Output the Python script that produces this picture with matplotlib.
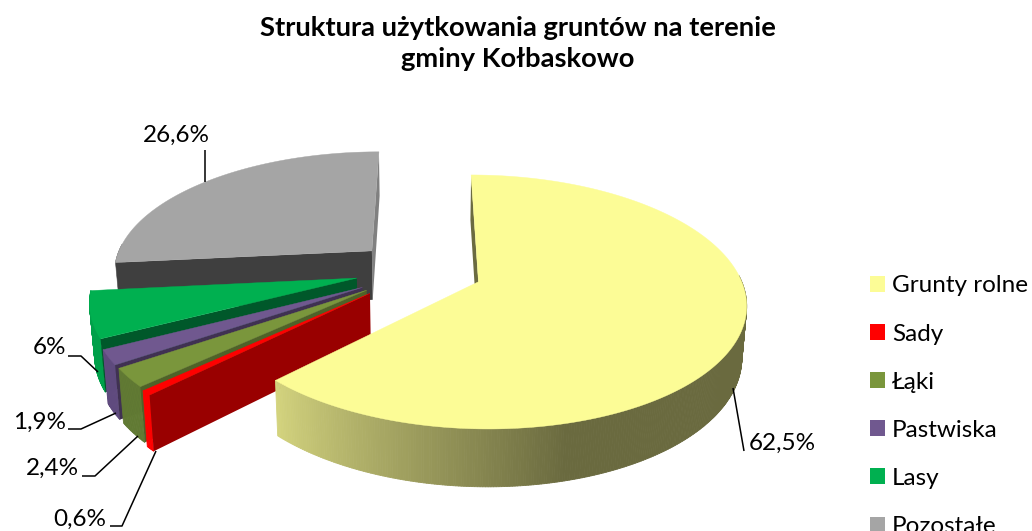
import matplotlib
matplotlib.use("Agg")
import matplotlib.pyplot as plt
import numpy as np
from matplotlib.patches import Patch, Polygon
from matplotlib.collections import PolyCollection

plt.rcParams['font.family'] = ['Lato', 'DejaVu Sans']

# Dane
kategorie = ["Grunty rolne", "Sady", "Łąki", "Pastwiska", "Lasy", "Pozostałe"]
wartosci = [62.5, 0.6, 2.4, 1.9, 6.0, 26.6]
etykiety = ["62,5%", "0,6%", "2,4%", "1,9%", "6%", "26,6%"]

# Wyglad wycinkow
explode_x = [0.203, -0.206, -0.219, -0.236, -0.26, -0.21]
explode_y = [0.08, 0.172, 0.147, 0.125, 0.05, -0.18]
kolory = ["#FCFC96", "#FF0000", "#7A963C", "#70588F", "#00B050", "#A5A5A5"]
kolory_bok = [None, "#FF0000", "#617A33", "#5F4A7E", "#00A04A", "#8C8C8C"]
kolory_start = ["#6B6B40", "#990000", "#4F6228", "#403152", "#00582A", "#3F3F3F"]
kolory_koniec = ["#6B6B40", "#990000", "#4F6228", "#403152", "#00582A", "#808080"]

# Pozycje etykiet i linii odniesienia (w pikselach obrazu)
etykiety_xy = [(749, 443), (53, 519), (26, 468), (13, 422), (33, 348), (143, 135)]
linie = [
    [(744, 451), (733, 388)],
    [(110, 526), (122, 526), (156, 451)],
    [(82, 476), (95, 476), (138, 436)],
    [(68, 429), (81, 429), (116, 413)],
    [(68, 356), (81, 356), (98, 372)],
    [(205, 150), (205, 182)],
]

# Parametry rzutu perspektywicznego
XV, YV = 425, 272
CX, AY, B = 260, 120.7, 0.157
H, K = 50, 0.985


def rzut(gx, gy, dol=False):
    s = 1 / (1 - B * gy)
    k = K if dol else 1
    z = H if dol else 0
    return XV + CX * gx * s * k, YV + (AY * gy * k + z) * s


def pole(p):
    p = np.array(p)
    return np.sum(p[:, 0] * np.roll(p[:, 1], -1) - np.roll(p[:, 0], -1) * p[:, 1])


def kolor_cien(kolor, f):
    return np.array(matplotlib.colors.to_rgb(kolor)) * f


fig = plt.figure(figsize=(10.32, 5.31), dpi=100)
ax = fig.add_axes([0, 0, 1, 1])
ax.set_xlim(0, 1032)
ax.set_ylim(531, 0)
ax.axis("off")

granice = np.cumsum([0] + wartosci) / sum(wartosci) * 360
kolejnosc = [5, 4, 3, 2, 1, 0]

for i in kolejnosc:
    a0, a1 = granice[i], granice[i + 1]
    ox, oy = explode_x[i], explode_y[i]
    kat = np.radians(np.linspace(a0, a1, max(int(a1 - a0) * 2, 6)))
    gx = ox + np.sin(kat)
    gy = oy - np.cos(kat)

    # bok zewnetrzny (tylko czesc widoczna z przodu)
    xg, yg = rzut(gx, gy)
    xd, yd = rzut(gx, gy, True)
    czworokaty = []
    barwy = []
    for j in range(len(kat) - 1):
        if np.cos(kat[j]) > 0.05:
            continue
        czworokaty.append([(xg[j], yg[j]), (xg[j + 1], yg[j + 1]),
                           (xd[j + 1], yd[j + 1]), (xd[j], yd[j])])
        if kolory_bok[i] is None:
            f = np.interp(np.degrees(kat[j]), [0, 165, 225], [0.42, 0.42, 0.84])
            barwy.append(kolor_cien(kolory[i], f))
        else:
            barwy.append(kolory_bok[i])
    ax.add_collection(PolyCollection(czworokaty, facecolors=barwy, edgecolors=barwy, linewidths=0.6))

    # sciany promieniowe, rysowane tylko gdy zwrocone do widza
    axg, ayg = rzut(ox, oy)
    axd, ayd = rzut(ox, oy, True)
    sciana_k = [(axg, ayg), (xg[-1], yg[-1]), (xd[-1], yd[-1]), (axd, ayd)]
    sciana_s = [(axg, ayg), (xg[0], yg[0]), (xd[0], yd[0]), (axd, ayd)]
    if pole(sciana_k) > 0:
        ax.add_patch(Polygon(sciana_k, fc=kolory_koniec[i], ec="none"))
    if pole(sciana_s) < 0:
        ax.add_patch(Polygon(sciana_s, fc=kolory_start[i], ec="none"))

    # wierzch
    ax.add_patch(Polygon(np.column_stack([np.r_[axg, xg], np.r_[ayg, yg]]),
                         fc=kolory[i], ec=kolory[i], lw=0.3))

for lin in linie:
    lin = np.array(lin)
    ax.plot(lin[:, 0], lin[:, 1], color="black", lw=1.1, solid_capstyle="butt")

for tekst, (x, y) in zip(etykiety, etykiety_xy):
    ax.text(x, y, tekst, fontsize=17.5, color="black", va="center", ha="left")

fig.text(518 / 1032, 1 - 43.5 / 531, "Struktura użytkowania gruntów na terenie\ngminy Kołbaskowo",
         fontsize=19.7, fontweight="bold", ha="center", va="center", linespacing=1.36)

uchwyty = [Patch(fc=k, ec="none") for k in kolory]
ax.legend(uchwyty, kategorie, loc="upper left", bbox_to_anchor=(870, 275.5), bbox_transform=ax.transData,
          frameon=False, fontsize=17.5, borderpad=0, borderaxespad=0, labelspacing=1.115,
          handlelength=0.62, handleheight=0.62, handletextpad=0.29)

fig.savefig("out.png", dpi=100)
